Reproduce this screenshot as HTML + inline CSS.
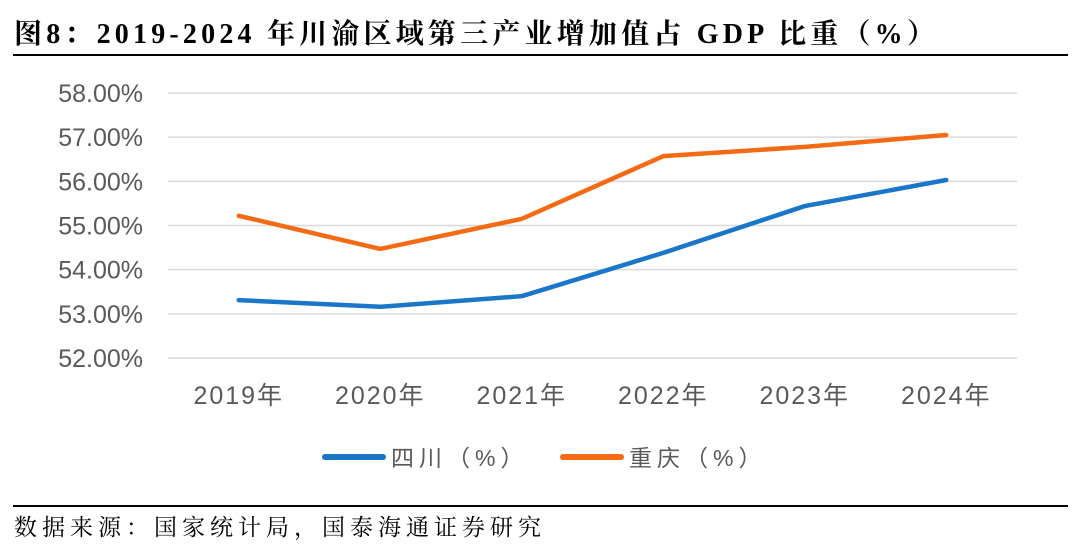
<!DOCTYPE html>
<html><head><meta charset="utf-8"><style>
body{margin:0;width:1080px;height:547px;background:#fff;overflow:hidden;position:relative;font-family:"Liberation Sans","Noto Sans CJK SC",sans-serif}
.title{position:absolute;left:14px;top:12px;font:bold 28px "Liberation Serif","Noto Serif CJK SC",serif;letter-spacing:4.2px;color:#000;white-space:nowrap}
.rule{position:absolute;left:13px;width:1055px;height:2px;background:#000}
.src{position:absolute;left:14px;top:509px;font:23px "Liberation Serif","Noto Serif CJK SC",serif;letter-spacing:5px;color:#000;white-space:nowrap}
</style></head><body>
<div class="title">图8：2019-2024 年川渝区域第三产业增加值占 GDP 比重（%）</div>
<div class="rule" style="top:54px"></div>
<div class="rule" style="top:505px;height:1.5px"></div>
<div class="src">数据来源：国家统计局，国泰海通证券研究</div>
<svg id="c" width="1080" height="547" style="position:absolute;left:0;top:0"></svg>
<script>
const categories=["2019年","2020年","2021年","2022年","2023年","2024年"];
const sichuan=[53.31,53.16,53.40,54.38,55.44,56.03];
const chongqing=[55.22,54.47,55.15,56.57,56.78,57.05];
const yTicks=[52,53,54,55,56,57,58];
const seriesNames=["四川（%）","重庆（%）"];
const colors=["#1a76c8","#f56a14"];
const svg=document.getElementById('c');const NS='http://www.w3.org/2000/svg';
const x0=168,x1=1017,yTop=93,yBot=358;
const xs=i=>x0+(x1-x0)*(i+0.5)/categories.length;
const ys=v=>yBot-(v-52)/(58-52)*(yBot-yTop);
function mk(t,a){const e=document.createElementNS(NS,t);for(const k in a)e.setAttribute(k,a[k]);svg.appendChild(e);return e;}
yTicks.forEach(v=>{
const g=mk('line',{x1:x0,x2:x1,y1:ys(v),y2:ys(v),stroke:'#d9d9d9','stroke-width':1.5});


const t=mk('text',{x:143,y:ys(v)+9,'text-anchor':'end','font-size':25,fill:'#595959'});t.textContent=v.toFixed(2)+'%';


});
categories.forEach((c,i)=>{const t=mk('text',{x:xs(i),y:404,'text-anchor':'middle','font-size':25,'letter-spacing':2,fill:'#595959'});t.textContent=c;

});
[sichuan,chongqing].forEach((s,k)=>{
const p=mk('polyline',{points:s.map((v,i)=>xs(i)+','+ys(v)).join(' '),fill:'none',stroke:colors[k],'stroke-width':4.5,'stroke-linejoin':'round','stroke-linecap':'round'});


});
const lx=[325,563];
seriesNames.forEach((n,k)=>{
const l=mk('line',{x1:lx[k],x2:lx[k]+58,y1:457,y2:457,stroke:colors[k],'stroke-width':6,'stroke-linecap':'round'});


const t=mk('text',{x:lx[k]+66,y:466,'font-size':23,'letter-spacing':5,fill:'#595959'});t.textContent=n;


});
</script>
</body></html>
